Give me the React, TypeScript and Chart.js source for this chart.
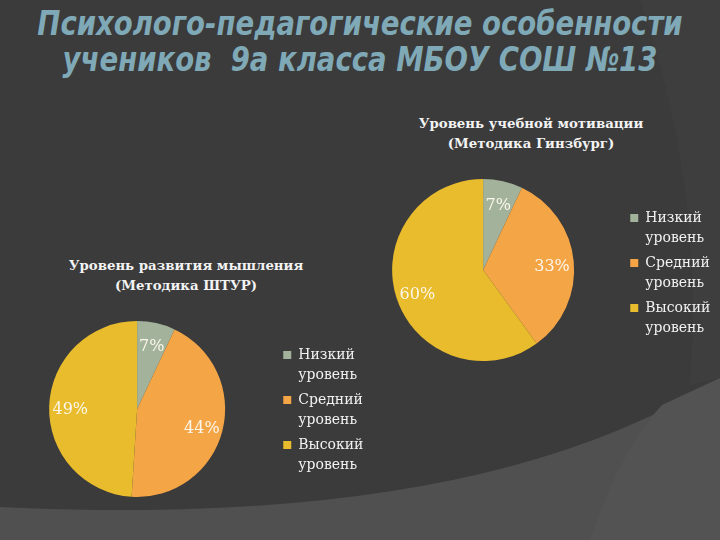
import React, { useEffect, useRef } from "react";
import { Chart, registerables } from "chart.js";

Chart.register(...registerables);

const mainTitleLines = ["Психолого-педагогические особенности", "учеников  9а класса МБОУ СОШ №13"];
const levelLabels = [["Низкий", "уровень"], ["Средний", "уровень"], ["Высокий", "уровень"]];
const thinkingTitle = ["Уровень развития мышления", "(Методика ШТУР)"];
const thinkingValues = [7, 44, 49];
const motivationTitle = ["Уровень учебной мотивации", "(Методика Гинзбург)"];
const motivationValues = [7, 33, 60];
const sliceColors = ["#a3b39b", "#f4a546", "#e8bc2c"];

const pctLabels = {
  id: "pctLabels",
  afterDatasetsDraw(chart: any) {
    const ctx = chart.ctx;
    const meta = chart.getDatasetMeta(0);
    const values = chart.data.datasets[0].data as number[];
    ctx.save();
    ctx.font = '16px "DejaVu Serif"';
    ctx.fillStyle = "#fbf6ea";
    ctx.textAlign = "center";
    ctx.textBaseline = "middle";
    meta.data.forEach((el: any, i: number) => {
      const p = el.getProps(["x", "y", "startAngle", "endAngle", "outerRadius"], true);
      const mid = (p.startAngle + p.endAngle) / 2;
      const r = p.outerRadius * 0.76;
      ctx.fillText(values[i] + "%", p.x + Math.cos(mid) * r, p.y + Math.sin(mid) * r + 3);
    });
    ctx.restore();
  },
};

type PieProps = {
  values: number[];
  left: number;
  top: number;
  width: number;
  height: number;
  radius: number;
  legendShift: number;
  padding: { top: number; right: number; bottom: number; left: number };
};

function PieChart({ values, left, top, width, height, radius, legendShift, padding }: PieProps) {
  const ref = useRef<HTMLCanvasElement>(null);
  useEffect(() => {
    const chart = new Chart(ref.current as HTMLCanvasElement, {
      type: "pie",
      data: {
        labels: levelLabels as any,
        datasets: [
          {
            data: values,
            backgroundColor: sliceColors,
            borderColor: sliceColors,
            borderWidth: 0,
            radius: radius,
          } as any,
        ],
      },
      options: {
        responsive: false,
        animation: false,
        layout: { padding },
        plugins: {
          legend: {
            position: "right",
            fullSize: false,
            title: {
              display: true,
              text: " ",
              padding: 0,
              font: { size: legendShift * 2, lineHeight: 1 },
            },
            labels: {
              color: "#f2f2f2",
              font: { family: "DejaVu Serif", size: 14, lineHeight: 20 / 14 },
              boxWidth: 8,
              boxHeight: 8,
              padding: 5,
            },
          },
          tooltip: { enabled: false },
          title: { display: false },
        },
      } as any,
      plugins: [pctLabels],
    });
    return () => chart.destroy();
  }, []);
  return (
    <canvas
      ref={ref}
      width={width}
      height={height}
      style={{ position: "absolute", left, top, width, height }}
    />
  );
}

function ChartTitle({ lines, cx, top }: { lines: string[]; cx: number; top: number }) {
  return (
    <div
      style={{
        position: "absolute",
        left: cx - 160,
        top,
        width: 320,
        textAlign: "center",
        font: 'bold 13.3px/20px "DejaVu Serif"',
        color: "#f3f3f3",
      }}
    >
      {lines.map((l, i) => (
        <div key={i}>{l}</div>
      ))}
    </div>
  );
}

export default function App() {
  return (
    <div
      style={{
        position: "fixed",
        left: 0,
        top: 0,
        width: 720,
        height: 540,
        overflow: "hidden",
        background: "#3b3b3b",
      }}
    >
      <svg width={720} height={540} style={{ position: "absolute", left: 0, top: 0 }}>
        <path d="M640,0 Q705,190 690,385 L720,378 L720,0 Z" fill="#3e3e3e" />
        <path d="M0,507 Q480,530 720,378 L720,540 L0,540 Z" fill="#505050" />
        <path d="M590,540 Q620,450 662,405 L720,378 L720,540 Z" fill="#535353" />
      </svg>
      <div
        style={{
          position: "absolute",
          left: 0,
          top: 5,
          width: 720,
          textAlign: "center",
          fontFamily: '"DejaVu Sans Condensed", "DejaVu Sans", sans-serif',
          fontWeight: "bold",
          fontStyle: "italic",
          fontSize: 34,
          lineHeight: "36px",
          color: "#7fa9b7",
          whiteSpace: "pre",
          transform: "scaleX(0.9)",
          transformOrigin: "360px 0",
        }}
      >
        {mainTitleLines.map((l, i) => (
          <div key={i}>{l}</div>
        ))}
      </div>
      <ChartTitle lines={motivationTitle} cx={531} top={114} />
      <ChartTitle lines={thinkingTitle} cx={186} top={256} />
      <PieChart
        values={motivationValues}
        left={341}
        top={160}
        width={379}
        height={220}
        radius={91}
        legendShift={6}
        padding={{ top: 19, right: 6, bottom: 19, left: 0 }}
      />
      <PieChart
        values={thinkingValues}
        left={-4}
        top={300}
        width={380}
        height={210}
        radius={88}
        legendShift={4}
        padding={{ top: 21, right: 9, bottom: 13, left: 0 }}
      />
    </div>
  );
}
